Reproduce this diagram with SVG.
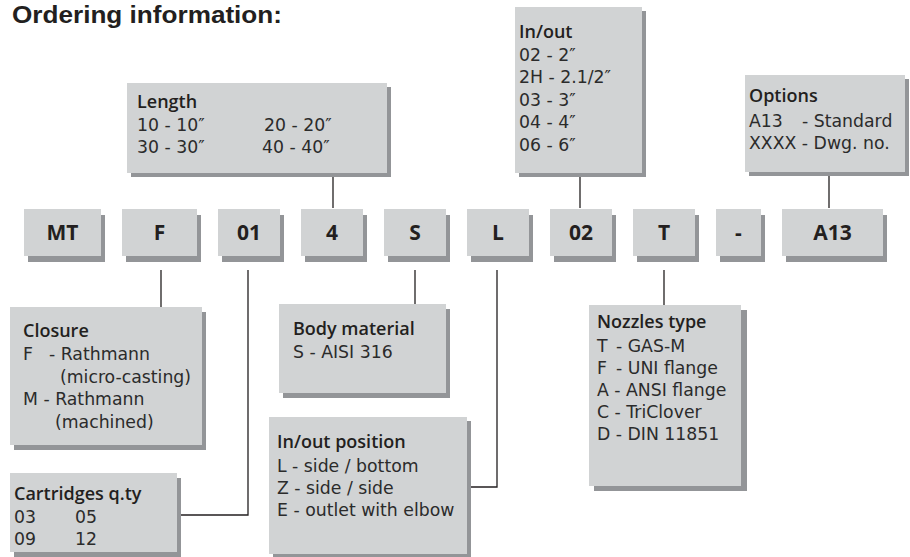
<svg xmlns="http://www.w3.org/2000/svg" width="910" height="557" viewBox="0 0 910 557">
<style>
.bx{fill:#d1d3d4}
.sh{fill:#939598}
.code{font-family:"Open Sans","Liberation Sans",sans-serif;font-weight:700;font-size:21px;fill:#231f20;text-anchor:middle}
.hd{font-family:"Open Sans","Liberation Sans",sans-serif;font-weight:600;font-size:18px;fill:#231f20}
.tx{font-family:"DejaVu Sans","Liberation Sans",sans-serif;font-size:17.3px;fill:#2b2b2b}
.title{font-family:"Liberation Sans",Arial,sans-serif;font-weight:700;font-size:24px;fill:#231f20}
.ln{fill:none;stroke:#231f20;stroke-width:1.3}
</style>
<rect width="910" height="557" fill="#ffffff"/>
<text class="title" x="12" y="23" textLength="270" lengthAdjust="spacingAndGlyphs">Ordering information:</text>

<g id="connectors">
<path class="ln" d="M333,173 V208"/>
<path class="ln" d="M580,174 V208"/>
<path class="ln" d="M829,173 V208"/>
<path class="ln" d="M161,270 V307"/>
<path class="ln" d="M248,270 V515 H177"/>
<path class="ln" d="M415,270 V304"/>
<path class="ln" d="M497,270 V487 H467"/>
<path class="ln" d="M664,270 V305"/>
</g>

<g id="length">
<rect class="sh" x="131" y="87" width="260" height="90"/>
<rect class="bx" x="127" y="83" width="260" height="90"/>
<text class="hd" x="137" y="108">Length</text>
<text class="tx" x="137" y="131">10 - 10″</text>
<text class="tx" x="264" y="131">20 - 20″</text>
<text class="tx" x="137" y="153">30 - 30″</text>
<text class="tx" x="262" y="153">40 - 40″</text>
</g>

<g id="inout">
<rect class="sh" x="519" y="11" width="127" height="166"/>
<rect class="bx" x="515" y="7" width="127" height="166"/>
<text class="hd" x="519" y="38">In/out</text>
<text class="tx" x="519" y="61">02 - 2″</text>
<text class="tx" x="519" y="83">2H - 2.1/2″</text>
<text class="tx" x="519" y="106">03 - 3″</text>
<text class="tx" x="519" y="128">04 - 4″</text>
<text class="tx" x="519" y="151">06 - 6″</text>
</g>

<g id="options">
<rect class="sh" x="749" y="79" width="160" height="97"/>
<rect class="bx" x="745" y="75" width="160" height="97"/>
<text class="hd" x="749" y="102">Options</text>
<text class="tx" x="749" y="127">A13</text>
<text class="tx" x="802" y="127">- Standard</text>
<text class="tx" x="749" y="149">XXXX - Dwg. no.</text>
</g>

<g id="code-MT"><rect class="sh" x="28" y="215" width="77" height="47"/><rect class="bx" x="24" y="209" width="77" height="47"/><text class="code" x="62.5" y="240">MT</text></g>
<g id="code-F"><rect class="sh" x="126" y="215" width="75" height="47"/><rect class="bx" x="122" y="209" width="75" height="47"/><text class="code" x="159.5" y="240">F</text></g>
<g id="code-01"><rect class="sh" x="222" y="215" width="62" height="47"/><rect class="bx" x="218" y="209" width="62" height="47"/><text class="code" x="249" y="240">01</text></g>
<g id="code-4"><rect class="sh" x="305" y="215" width="62" height="47"/><rect class="bx" x="301" y="209" width="62" height="47"/><text class="code" x="332" y="240">4</text></g>
<g id="code-S"><rect class="sh" x="388" y="215" width="62" height="47"/><rect class="bx" x="384" y="209" width="62" height="47"/><text class="code" x="415" y="240">S</text></g>
<g id="code-L"><rect class="sh" x="471" y="215" width="62" height="47"/><rect class="bx" x="467" y="209" width="62" height="47"/><text class="code" x="498" y="240">L</text></g>
<g id="code-02"><rect class="sh" x="554" y="215" width="62" height="47"/><rect class="bx" x="550" y="209" width="62" height="47"/><text class="code" x="581" y="240">02</text></g>
<g id="code-T"><rect class="sh" x="637" y="215" width="62" height="47"/><rect class="bx" x="633" y="209" width="62" height="47"/><text class="code" x="664" y="240">T</text></g>
<g id="code-dash"><rect class="sh" x="720" y="215" width="45" height="47"/><rect class="bx" x="716" y="209" width="45" height="47"/><text class="code" x="738.5" y="240">-</text></g>
<g id="code-A13"><rect class="sh" x="786" y="215" width="101" height="47"/><rect class="bx" x="782" y="209" width="101" height="47"/><text class="code" x="832.5" y="240">A13</text></g>

<g id="closure">
<rect class="sh" x="14" y="312" width="192" height="138"/>
<rect class="bx" x="10" y="307" width="192" height="138"/>
<text class="hd" x="23" y="337">Closure</text>
<text class="tx" x="23" y="360">F</text>
<text class="tx" x="49" y="360">- Rathmann</text>
<text class="tx" x="60" y="383">(micro-casting)</text>
<text class="tx" x="23" y="405">M - Rathmann</text>
<text class="tx" x="55" y="428">(machined)</text>
</g>

<g id="cartridges">
<rect class="sh" x="14" y="478" width="167" height="79"/>
<rect class="bx" x="10" y="473" width="167" height="79"/>
<text class="hd" x="14" y="500">Cartridges q.ty</text>
<text class="tx" x="14" y="523">03</text>
<text class="tx" x="75" y="523">05</text>
<text class="tx" x="14" y="545">09</text>
<text class="tx" x="75" y="545">12</text>
</g>

<g id="body-material">
<rect class="sh" x="283" y="309" width="167" height="89"/>
<rect class="bx" x="279" y="304" width="167" height="89"/>
<text class="hd" x="293" y="335">Body material</text>
<text class="tx" x="293" y="358">S - AISI 316</text>
</g>

<g id="inout-position">
<rect class="sh" x="273" y="421" width="198" height="136"/>
<rect class="bx" x="269" y="417" width="198" height="137"/>
<text class="hd" x="277" y="448">In/out position</text>
<text class="tx" x="277" y="472">L - side / bottom</text>
<text class="tx" x="277" y="494">Z - side / side</text>
<text class="tx" x="277" y="516">E - outlet with elbow</text>
</g>

<g id="nozzles">
<rect class="sh" x="594" y="310" width="153" height="181"/>
<rect class="bx" x="589" y="305" width="152" height="181"/>
<text class="hd" x="597" y="328">Nozzles type</text>
<text class="tx" x="597" y="352">T</text>
<text class="tx" x="616" y="352">- GAS-M</text>
<text class="tx" x="597" y="374">F</text>
<text class="tx" x="616" y="374">- UNI flange</text>
<text class="tx" x="597" y="396">A - ANSI flange</text>
<text class="tx" x="597" y="418">C - TriClover</text>
<text class="tx" x="597" y="440">D - DIN 11851</text>
</g>
</svg>
